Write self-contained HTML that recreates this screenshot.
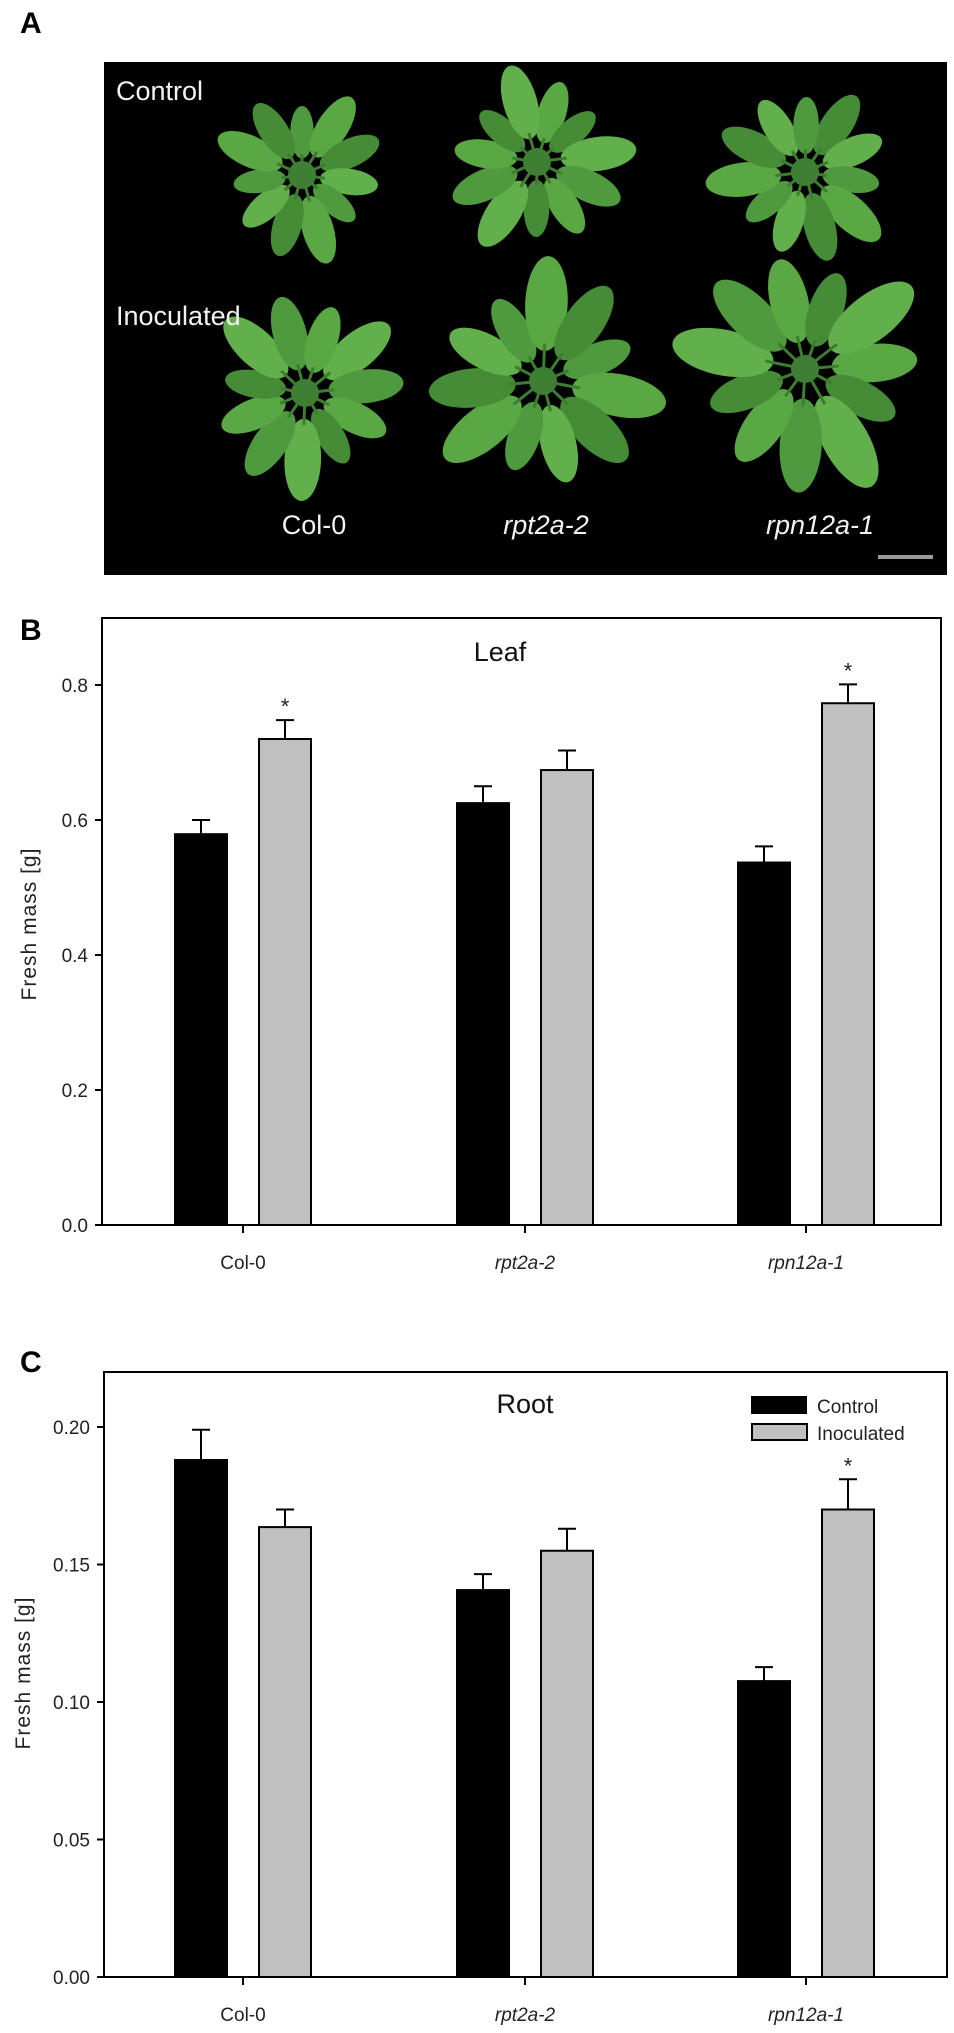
<!DOCTYPE html>
<html><head><meta charset="utf-8"><style>
html,body{margin:0;padding:0;background:#fff;}
body{width:954px;height:2033px;overflow:hidden;position:relative;font-family:"Liberation Sans",Arial,sans-serif;}
svg{position:absolute;left:0;top:0;}
</style></head><body>
<svg id="fig" width="954" height="2033" viewBox="0 0 954 2033" xmlns="http://www.w3.org/2000/svg">
  <text x="20" y="33" font-size="30" font-weight="bold">A</text>
  <g id="photo">
    <rect x="104" y="62" width="843" height="513" fill="#000"/>
    <g id="plants"></g>
    <text x="116" y="100" font-size="27" fill="#f2f2f2">Control</text>
    <text x="116" y="325" font-size="27" fill="#f2f2f2">Inoculated</text>
    <text x="314" y="534" font-size="27" fill="#f2f2f2" text-anchor="middle">Col-0</text>
    <text x="546" y="534" font-size="27" fill="#f2f2f2" font-style="italic" text-anchor="middle">rpt2a-2</text>
    <text x="820" y="534" font-size="27" fill="#f2f2f2" font-style="italic" text-anchor="middle">rpn12a-1</text>
    <rect x="878" y="555" width="55" height="4" fill="#999"/>
  </g>
  <text x="20" y="640" font-size="30" font-weight="bold">B</text>
  <g id="chartB"></g>
  <text x="20" y="1372" font-size="30" font-weight="bold">C</text>
  <g id="chartC"></g>
</svg>
<script>
const categories = ["Col-0", "rpt2a-2", "rpn12a-1"];
const leafControl = [0.579, 0.625, 0.537];
const leafControlErr = [0.600, 0.650, 0.561];
const leafInoc = [0.720, 0.674, 0.773];
const leafInocErr = [0.748, 0.703, 0.801];
const leafStars = [false, true, false, false, false, true];
const leafTicks = ["0.0", "0.2", "0.4", "0.6", "0.8"];
const rootControl = [0.188, 0.1407, 0.1076];
const rootControlErr = [0.199, 0.1465, 0.1127];
const rootInoc = [0.1636, 0.155, 0.170];
const rootInocErr = [0.170, 0.163, 0.181];
const rootStars = [false, false, false, false, false, true];
const rootTicks = ["0.00", "0.05", "0.10", "0.15", "0.20"];

const NS = "http://www.w3.org/2000/svg";
function mk(tag, attrs, parent, txt) {
  const e = document.createElementNS(NS, tag);
  for (const k in attrs) e.setAttribute(k, attrs[k]);
  if (txt !== undefined) e.textContent = txt;
  parent.appendChild(e);
  return e;
}

function drawChart(g, cfg) {
  const yScale = v => cfg.y0 - (v / cfg.tickMax) * (cfg.y0 - cfg.yMax);
  const xCenters = [243, 525, 806];
  const box = mk("rect", {x: cfg.left, y: cfg.top, width: cfg.right - cfg.left, height: cfg.y0 - cfg.top, fill: "none", stroke: "#000", "stroke-width": 2}, g);
  
  
  const xl = mk("line", {x1: cfg.left - 7, x2: cfg.right, y1: cfg.y0, y2: cfg.y0, stroke: "#000", "stroke-width": 2}, g);
  
  
  cfg.ticks.forEach((t, i) => {
    const v = parseFloat(t);
    const y = yScale(v);
    const tl = mk("line", {x1: cfg.left - 7, x2: cfg.left, y1: y, y2: y, stroke: "#000", "stroke-width": 2}, g);
    
    
    const tx = mk("text", {x: cfg.left - 14, y: y + 7, "font-size": 19, "text-anchor": "end", fill: "#222"}, g, t);
    
    
  });
  const yt = mk("text", {x: 0, y: 0, "font-size": 21, "text-anchor": "middle", fill: "#222", "letter-spacing": "1", transform: `translate(${cfg.ytX},${cfg.ytY}) rotate(-90)`}, g, "Fresh mass [g]");
  
  
  const title = mk("text", {x: cfg.titleX, y: cfg.titleY, "font-size": 27, "text-anchor": "middle", fill: "#111"}, g, cfg.title);
  
  
  categories.forEach((c, i) => {
    const cx = xCenters[i];
    const tk = mk("line", {x1: cx, x2: cx, y1: cfg.y0, y2: cfg.y0 + 8, stroke: "#000", "stroke-width": 2}, g);
    
    
    const lab = mk("text", {x: cx, y: cfg.y0 + 44, "font-size": 19, "text-anchor": "middle", fill: "#222", "font-style": i > 0 ? "italic" : "normal"}, g, c);
    
    
    const series = [[cfg.ctrl, cfg.ctrlErr, "#000", -42], [cfg.inoc, cfg.inocErr, "#c0c0c0", 42]];
    series.forEach((s, j) => {
      const bx = cx + s[3];
      const top = yScale(s[0][i]);
      const et = yScale(s[1][i]);
      const el = mk("line", {x1: bx, x2: bx, y1: top, y2: et, stroke: "#000", "stroke-width": 2}, g);
      
      
      const cap = mk("line", {x1: bx - 9, x2: bx + 9, y1: et, y2: et, stroke: "#000", "stroke-width": 2}, g);
      
      
      const r = mk("rect", {x: bx - 26, y: top, width: 52, height: cfg.y0 - top, fill: s[2], stroke: "#000", "stroke-width": 2}, g);
      
      
      if (cfg.stars[i * 2 + j]) {
        const st = mk("text", {x: bx, y: et - 6, "font-size": 22, "text-anchor": "middle", fill: "#222"}, g, "*");
        
        
      }
    });
  });
}

drawChart(document.getElementById("chartB"), {
  left: 102, right: 941, top: 618, y0: 1225, yMax: 685, tickMax: 0.8,
  ticks: leafTicks, ctrl: leafControl, ctrlErr: leafControlErr, inoc: leafInoc, inocErr: leafInocErr,
  stars: leafStars, title: "Leaf", titleX: 500, titleY: 661, ytX: 36, ytY: 924
});
drawChart(document.getElementById("chartC"), {
  left: 104, right: 947, top: 1372, y0: 1977, yMax: 1427, tickMax: 0.2,
  ticks: rootTicks, ctrl: rootControl, ctrlErr: rootControlErr, inoc: rootInoc, inocErr: rootInocErr,
  stars: rootStars, title: "Root", titleX: 525, titleY: 1413, ytX: 30, ytY: 1673
});

// legend for root chart
const gC = document.getElementById("chartC");
const lg = mk("g", {}, gC);


const s1 = mk("rect", {x: 751, y: 1396, width: 56, height: 18, fill: "#000"}, lg);


const t1 = mk("text", {x: 817, y: 1413, "font-size": 19, fill: "#222"}, lg, "Control");


const s2 = mk("rect", {x: 752, y: 1424, width: 55, height: 16, fill: "#c0c0c0", stroke: "#000", "stroke-width": 2}, lg);


const t2 = mk("text", {x: 817, y: 1440, "font-size": 19, fill: "#222"}, lg, "Inoculated");



// decorative plant rosettes in photo
const plantCenters = [[302,175,92],[537,162,100],[805,172,100],[305,393,108],[543,381,125],[805,369,135]];
const pg = document.getElementById("plants");
plantCenters.forEach((p, k) => {
  const grp = mk("g", {}, pg);
  
  
  const n = 11;
  for (let i = 0; i < n; i++) {
    const a = (360 / n) * i + k * 17;
    const len = p[2] * (0.75 + 0.25 * ((i * 7 + k) % 4) / 3);
    const col = ["#4f9a3e","#5aa844","#468c37","#62b04b"][(i + k) % 4];
    const leaf = mk("ellipse", {cx: 0, cy: -len * 0.62, rx: len * 0.17, ry: len * 0.38, fill: col, transform: `translate(${p[0]},${p[1]}) rotate(${a})`}, grp);
    
    
    const stem = mk("line", {x1: 0, y1: 0, x2: 0, y2: -len * 0.3, stroke: "#3d7d30", "stroke-width": 3, transform: `translate(${p[0]},${p[1]}) rotate(${a})`}, grp);
    
    
  }
  const ctr = mk("circle", {cx: p[0], cy: p[1], r: 14, fill: "#3f7f33"}, grp);
  
  
});
</script>
</body></html>
